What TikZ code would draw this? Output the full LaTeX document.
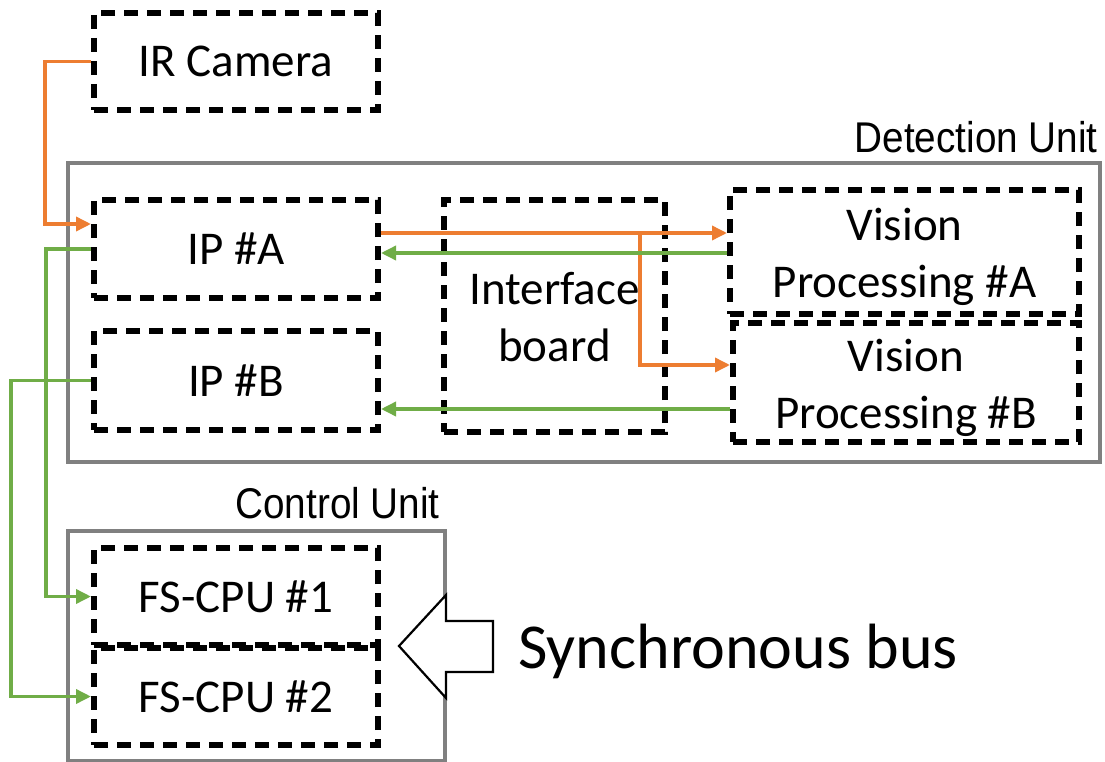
\documentclass[tikz,border=0pt]{standalone}
\usepackage{fontspec}
\setmainfont{Carlito}
\newfontfamily\narrowfont[FakeStretch=0.9]{Liberation Sans}
\usetikzlibrary{arrows.meta}
\definecolor{orng}{HTML}{ED7D31}
\definecolor{grn}{HTML}{70AD47}
\definecolor{gry}{HTML}{808080}
\newcommand{\twoline}[3]{\raisebox{#1}[\height][\depth]{\begin{tabular}{@{}c@{}}#2\\#3\end{tabular}}}
\begin{document}
\begin{tikzpicture}[x=1pt,y=-1pt,
  dbox/.style={draw=black,line width=6pt,dash pattern=on 14pt off 9pt,inner sep=0pt,align=center,
    font=\fontsize{47}{57}\selectfont},
  gbox/.style={draw=gry,line width=3.5pt,inner sep=0pt},
  unitlabel/.style={inner sep=0pt,font=\narrowfont\fontsize{43}{50}\selectfont},
  orarrow/.style={draw=orng,line width=3.5pt,-{Triangle[length=15pt,width=14pt]}},
  grarrow/.style={draw=grn,line width=3.5pt,-{Triangle[length=15pt,width=14pt]}},
  busarrow/.style={draw=black,line width=2.2pt,fill=white,line join=miter}]
\useasboundingbox (0,0) rectangle (1105,762);
% containers
\node[gbox,minimum width=1032pt,minimum height=299pt] (det) at (584,312.5) {};
\node[gbox,minimum width=377pt,minimum height=230pt] (ctl) at (256.5,646) {};
\node[unitlabel,anchor=base east] (detlbl) at (1098,153) {Detection Unit};
\node[unitlabel,anchor=base east] (ctllbl) at (440,518) {Control Unit};
% boxes
\node[dbox,minimum width=284pt,minimum height=97pt] (cam) at (236,61.5) {IR Camera};
\node[dbox,minimum width=284pt,minimum height=98pt] (ipa) at (236,249) {IP \#A};
\node[dbox,minimum width=284pt,minimum height=99pt] (ipb) at (236,380.5) {IP \#B};
\node[dbox,minimum width=221pt,minimum height=232pt] (ifb) at (554.5,316) {\twoline{-6pt}{Interface}{board}};
\node[dbox,minimum width=349pt,minimum height=124pt] (vpa) at (904.5,252) {\twoline{-6pt}{Vision}{Processing \#A}};
\node[dbox,minimum width=346pt,minimum height=119pt] (vpb) at (906,382.5) {\twoline{-6pt}{Vision}{Processing \#B}};
\node[dbox,minimum width=284pt,minimum height=97pt] (fs1) at (236,596.5) {FS-CPU \#1};
\node[dbox,minimum width=284pt,minimum height=97pt] (fs2) at (236,696.5) {FS-CPU \#2};
% helper levels
\coordinate (y224) at (0,224);
\coordinate (y233) at (0,233);
\coordinate (y253) at (0,253);
\coordinate (y365) at (0,365);
\coordinate (y409) at (0,409);
\coordinate (br) at (640,233);
% connectors
\draw[orarrow] (cam.west) -- ++(-46,0) |- (ipa.west |- y224);
\draw[grarrow] (ipa.west) -- ++(-45,0) |- (fs1.west);
\draw[grarrow] (ipb.west) -- ++(-80,0) |- (fs2.west);
\draw[orarrow] (ipa.east |- y233) -- (vpa.west |- y233);
\draw[orarrow] (br) |- (vpb.west |- y365);
\draw[grarrow] (vpa.west |- y253) -- (ipa.east |- y253);
\draw[grarrow] (vpb.west |- y409) -- (ipb.east |- y409);
% synchronous bus
\draw[busarrow] (399,646) -- (446,595) -- (446,621) -- (493,621) -- (493,672) -- (446,672) -- (446,698) -- cycle;
\node[inner sep=0pt,anchor=base west,font=\fontsize{64}{70}\selectfont] (bus) at (518,668) {Synchronous bus};
\end{tikzpicture}
\end{document}
